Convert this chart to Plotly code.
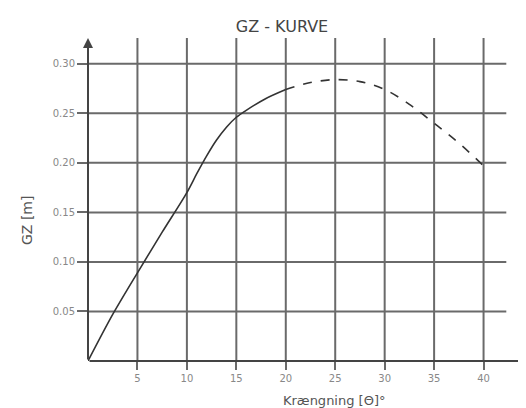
import plotly.graph_objects as go

# Data
solid_x = [0, 2.5, 5, 7.5, 10, 11, 12, 13, 14, 15, 16, 18, 20]
solid_y = [0, 0.047, 0.089, 0.130, 0.170, 0.189, 0.207, 0.223, 0.236, 0.246, 0.253, 0.265, 0.274]
dashed_x = [20, 22.5, 25, 27.5, 30, 32.5, 35, 37.5, 40]
dashed_y = [0.274, 0.281, 0.284, 0.282, 0.274, 0.259, 0.240, 0.220, 0.197]

x_ticks = [5, 10, 15, 20, 25, 30, 35, 40]
y_ticks = [0.05, 0.10, 0.15, 0.20, 0.25, 0.30]
y_tick_labels = ["0.05", "0.10", "0.15", "0.20", "0.25", "0.30"]

X_MAX = 45
Y_MAX = 0.326
GRID_X_END = 42.3

W, H = 526, 408
L, R, T, B = 80, 1, 30, 55
PW = W - L - R
PH = H - T - B

grid_col = "#6a6a6a"
curve_col = "#333333"
FONT = "DejaVu Sans, Verdana, sans-serif"

fig = go.Figure()
fig.add_trace(go.Scatter(x=solid_x, y=solid_y, mode="lines",
                         line=dict(color=curve_col, width=1.6, shape="spline", smoothing=0.8),
                         showlegend=False, hoverinfo="skip"))
fig.add_trace(go.Scatter(x=dashed_x, y=dashed_y, mode="lines",
                         line=dict(color=curve_col, width=1.6, dash="dash", shape="spline"),
                         showlegend=False, hoverinfo="skip"))

shapes = []
for xv in x_ticks:
    shapes.append(dict(type="line", xref="x", yref="y", x0=xv, x1=xv, y0=0, y1=Y_MAX,
                       line=dict(color=grid_col, width=2), layer="below"))
for yv in y_ticks:
    shapes.append(dict(type="line", xref="x", yref="y", x0=0, x1=GRID_X_END, y0=yv, y1=yv,
                       line=dict(color=grid_col, width=2), layer="below"))

annotations = [
    dict(x=X_MAX - 0.3, y=0, ax=0, ay=0, xref="x", yref="y", axref="x", ayref="y",
         showarrow=True, arrowhead=2, arrowsize=1, arrowwidth=2, arrowcolor="#444", text=""),
    dict(x=0, y=Y_MAX, ax=0, ay=0, xref="x", yref="y", axref="x", ayref="y",
         showarrow=True, arrowhead=2, arrowsize=1, arrowwidth=2, arrowcolor="#444", text=""),
    # x-axis title
    dict(text="Krængning [Θ]°", xref="paper", yref="paper",
         x=(326 - L) / PW, y=-(392 - T - PH) / PH, xanchor="center", yanchor="middle",
         showarrow=False, font=dict(family=FONT, size=13, color="#555")),
    # y-axis title
    dict(text="GZ [m]", xref="paper", yref="paper", textangle=-90,
         x=(19 - L) / PW, y=1 - (213 - T) / PH, xanchor="center", yanchor="middle",
         showarrow=False, font=dict(family=FONT, size=14, color="#555")),
]

fig.update_layout(
    width=W, height=H,
    margin=dict(l=L, r=R, t=T, b=B),
    paper_bgcolor="white", plot_bgcolor="white",
    font=dict(family=FONT),
    title=dict(text="GZ - KURVE", x=274 / W, xanchor="center",
               y=1 - 18 / H, yanchor="middle", yref="container",
               font=dict(family=FONT, size=16, color="#444")),
    shapes=shapes, annotations=annotations,
)
fig.update_xaxes(range=[0, X_MAX], showgrid=False, zeroline=False, showline=False,
                 automargin=False,
                 tickvals=x_ticks, ticks="outside", ticklen=8, tickwidth=2, tickcolor=grid_col,
                 tickfont=dict(family=FONT, size=10, color="#888"),
                 fixedrange=True)
fig.update_yaxes(range=[0, Y_MAX], showgrid=False, zeroline=False, showline=False,
                 automargin=False,
                 tickvals=y_ticks, ticktext=y_tick_labels, ticks="outside", ticklen=10,
                 tickwidth=2, tickcolor=grid_col,
                 tickfont=dict(family=FONT, size=10, color="#888"),
                 fixedrange=True)

fig.write_html("out.html")
